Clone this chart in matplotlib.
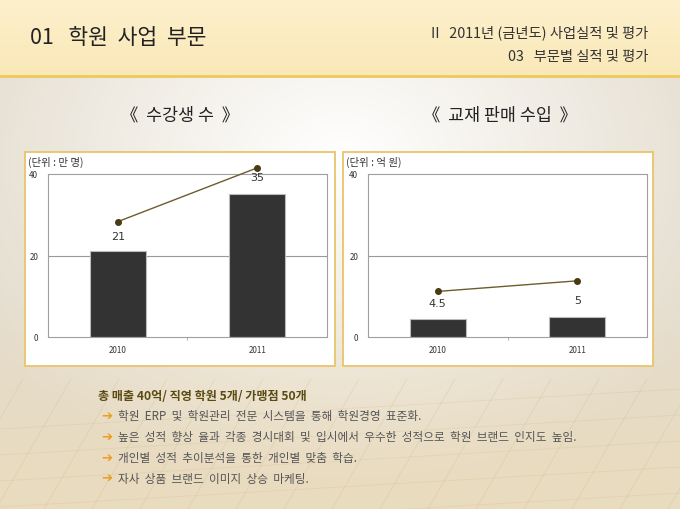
import numpy as np
import matplotlib.pyplot as plt
from matplotlib.patches import Rectangle

plt.rcParams['font.family'] = ['Noto Sans CJK KR', 'DejaVu Sans']

# data
years = ['2010', '2011']
students = [21, 35]          # 수강생 수 (만 명)
book_sales = [4.5, 5]        # 교재 판매 수입 (억 원)
y_ticks = [0, 20, 40]

summary = '총 매출 40억/ 직영 학원 5개/ 가맹점 50개'
bullets = [
    '학원 ERP 및 학원관리 전문 시스템을 통해 학원경영 표준화.',
    '높은 성적 향상 율과 각종 경시대회 및 입시에서 우수한 성적으로 학원 브랜드 인지도 높임.',
    '개인별 성적 추이분석을 통한 개인별 맞춤 학습.',
    '자사 상품 브랜드 이미지 상승 마케팅.',
]


def wide(s):
    # the slide font is spaced more loosely than Noto
    return s.replace(' ', '  ')


W, H = 680, 510
fig = plt.figure(figsize=(6.8, 5.1), dpi=100)

# background: header band + soft vignette
yy, xx = np.mgrid[0:H, 0:W]
d = np.clip(np.sqrt(((xx - 340) / 430) ** 2 + ((yy - 160) / 330) ** 2), 0, 1)[..., None]
t = (np.clip((yy - 300) / 210, 0, 1) * 0.55)[..., None]
base = np.ones(3) * (1 - d) + np.array([0.89, 0.86, 0.80]) * d
img = base * (1 - t) + np.array([0.94, 0.86, 0.70]) * t
ht = (yy / 77)[..., None]
hdr = np.array([0.99, 0.94, 0.80]) * (1 - ht) + np.array([0.98, 0.91, 0.72]) * ht
img = np.where((yy < 77)[..., None], hdr, img)

bg = fig.add_axes([0, 0, 1, 1])
bg.imshow(img, extent=(0, W, H, 0), aspect='auto')
bg.set_xlim(0, W)
bg.set_ylim(H, 0)
bg.axis('off')
bg.plot([0, W], [77, 77], color='#f0c85a', lw=2)

# faint paper lines at the bottom
for x0 in np.arange(-100, 900, 48):
    bg.plot([x0, x0 + 75], [H, 380], color='#cdb98a', lw=0.6, alpha=0.3)
for y0 in np.arange(400, 520, 26):
    bg.plot([0, W], [y0 + 30, y0 - 10], color='#cdb98a', lw=0.6, alpha=0.25)

# header texts
bg.text(30, 38, '01   학원  사업  부문', fontsize=15.5, va='center', color='#222222')
bg.text(648, 33, 'II   2011년 (금년도) 사업실적 및 평가', ha='right', va='center',
        fontsize=10.3, color='#333333')
bg.text(648, 57, '03   부문별 실적 및 평가', ha='right', va='center',
        fontsize=10.3, color='#333333')
bg.text(180, 115, '《  수강생 수  》', ha='center', va='center', fontsize=12.5, color='#222222')
bg.text(500, 115, '《  교재 판매 수입  》', ha='center', va='center', fontsize=12.5, color='#222222')

# chart frames
for x0 in (25, 343):
    bg.add_patch(Rectangle((x0, 153), 310, 214, fc='white', ec='#eac46a', lw=1.3))
bg.text(28, 162, '(단위 : 만 명)', fontsize=7.5, va='center', color='#333333')
bg.text(346, 162, '(단위 : 억 원)', fontsize=7.5, va='center', color='#333333')


def draw_chart(left, values, twin_lim, offsets):
    ax = fig.add_axes([left / W, 1 - 338 / H, 279 / W, 163 / H])
    x = np.arange(len(years))
    ax.bar(x, values, width=0.4, color='#333333', edgecolor='#bbbbbb', lw=0.8, zorder=2)
    ax.set_xlim(-0.5, 1.5)
    ax.set_ylim(0, 40)
    ax.set_yticks(y_ticks)
    ax.set_xticks(x, years)
    ax.set_xticks([0.5], minor=True)
    ax.axhline(20, color='#999999', lw=0.8, zorder=1)
    for s in ax.spines.values():
        s.set_color('#a0a0a0')
        s.set_linewidth(0.8)
    ax.tick_params(axis='both', which='major', length=0, labelsize=5.8, colors='#333333')
    ax.tick_params(axis='y', pad=7)
    ax.tick_params(axis='x', pad=6)
    ax.tick_params(axis='x', which='minor', length=2, color='#a0a0a0')

    tw = ax.twinx()
    tw.set_ylim(twin_lim)
    tw.axis('off')
    tw.plot(x, values, color='#6e5c2e', lw=1, marker='o', ms=4,
            mfc='#4a3a12', mec='#4a3a12', clip_on=False, zorder=3)
    for xi, v, off in zip(x, values, offsets):
        tw.annotate(f'{v:g}', (xi, v), xytext=(0, off), textcoords='offset points',
                    ha='center', va='center', fontsize=8, color='#333333',
                    family='DejaVu Sans', annotation_clip=False)


draw_chart(48, students, (-9.0, 33.4), [-10, -6.3])
draw_chart(368, book_sales, (2.35, 10.04), [-8.6, -14])

# summary + bullets
bg.text(98, 397, summary, fontsize=8.7, fontweight='bold', color='#5b4a12', va='center')
for i, line in enumerate(bullets):
    y = 417 + i * 20.7
    bg.text(101, y, '➔', fontsize=9.5, color='#ec9d1c', va='center', ha='left',
            family='DejaVu Sans', fontweight='bold')
    bg.text(118, y, wide(line), fontsize=8.4, color='#555555', va='center')

fig.savefig('out.png', dpi=100)
